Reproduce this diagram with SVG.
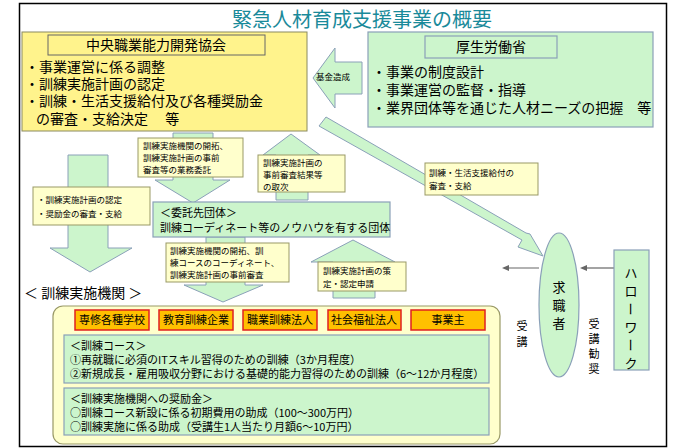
<svg xmlns="http://www.w3.org/2000/svg" width="680" height="448" viewBox="0 0 680 448">
<style>
text{font-family:"Noto Sans CJK JP","Noto Sans CJK SC",sans-serif;fill:#000}
.ar{fill:#ccf5cc;stroke:#8aa0b8;stroke-width:1}
.lb{fill:#ffffcc;stroke:#999966;stroke-width:1}
.gb{fill:#ccf5cc;stroke:#8aa0b8;stroke-width:1.2}
.ob{fill:#ffc000;stroke:#e02020;stroke-width:1.5}
.s{font-size:8.5px}
.m{font-size:11px}
.l{font-size:14px}
.v{font-size:13px}
</style>
<rect x="0" y="0" width="680" height="448" fill="#fff"/>
<rect x="19.5" y="3.5" width="647" height="443" fill="none" stroke="#000" stroke-width="1.5"/>
<text x="232" y="27" style="font-size:20px;fill:#1a8a9a">緊急人材育成支援事業の概要</text>
<g id="connectors">
<polygon class="ar" points="313,78 335,48 335,62 362,62 362,94 335,94 335,108"/>
<polygon class="ar" points="326,117 319,126 522,240 518,247 543,256 530,234 526,233"/>
<polygon class="ar" points="173,133 213,133 213,180 230,180 193,203 155,180 173,180"/>
<polygon class="ar" points="276,200 308,200 308,155 320,155 291,134 263,155 276,155"/>
<polygon class="ar" points="68,155 108,155 108,248 132,248 90,272 50,248 68,248"/>
<polygon class="ar" points="206,237 245,237 245,285 263,285 223,302 184,285 206,285"/>
<polygon class="ar" points="333,298 375,298 375,262 395,262 353,240 311,262 333,262"/>
<line x1="614" y1="268" x2="584" y2="268" stroke="#666" stroke-width="1.2"/>
<polygon points="580,268 587,265 587,271" fill="#666"/>
<line x1="539" y1="268" x2="506" y2="268" stroke="#666" stroke-width="1.2"/>
<polygon points="502,268 509,265 509,271" fill="#666"/>
</g>
<g id="chuo">
<rect x="22" y="32" width="285" height="99" fill="#fff38c" stroke="#8a8a60" stroke-width="1"/>
<rect x="48" y="35" width="217" height="20" fill="#fff38c" stroke="#666" stroke-width="1"/>
<text x="156" y="50" class="l" text-anchor="middle">中央職業能力開発協会</text>
<text x="25" y="72" class="l">・事業運営に係る調整</text>
<text x="25" y="89" class="l">・訓練実施計画の認定</text>
<text x="25" y="106" class="l">・訓練・生活支援給付及び各種奨励金</text>
<text x="36" y="124" class="l">の審査・支給決定　 等</text>
</g>
<g id="mhlw">
<rect x="368" y="32" width="285" height="95" class="gb"/>
<rect x="425" y="36" width="132" height="22" class="gb"/>
<text x="491" y="52" class="l" text-anchor="middle">厚生労働省</text>
<text x="372" y="77" class="l">・事業の制度設計</text>
<text x="372" y="95" class="l">・事業運営の監督・指導</text>
<text x="372" y="113" class="l">・業界団体等を通じた人材ニーズの把握　等</text>
</g>
<g id="lbl-kikin"><text x="316" y="80" class="s">基金造成</text></g>
<g id="lbl-diag"><rect x="425" y="163" width="113" height="32" class="lb"/>
<text x="429" y="176" class="s">訓練・生活支援給付の</text><text x="429" y="189" class="s">審査・支給</text></g>
<g id="lbl-itaku"><rect x="138" y="138" width="105" height="39" class="lb"/>
<text x="143" y="149" class="s">訓練実施機関の開拓、</text><text x="143" y="161" class="s">訓練実施計画の事前</text><text x="143" y="173" class="s">審査等の業務委託</text></g>
<g id="lbl-toritsugi"><rect x="258" y="155" width="87" height="37" class="lb"/>
<text x="263" y="166" class="s">訓練実施計画の</text><text x="263" y="178" class="s">事前審査結果等</text><text x="263" y="190" class="s">の取次</text></g>
<g id="lbl-nintei"><rect x="33" y="187" width="117" height="38" class="lb"/>
<text x="37" y="203" class="s">・訓練実施計画の認定</text><text x="37" y="217" class="s">・奨励金の審査・支給</text></g>
<g id="itakusaki">
<rect x="153" y="202" width="237" height="35" class="gb"/>
<text x="160" y="217" class="m">＜委託先団体＞</text>
<text x="160" y="232" class="m">訓練コーディネート等のノウハウを有する団体</text>
</g>
<g id="lbl-kaitaku"><rect x="166" y="243" width="123" height="39" class="lb"/>
<text x="170" y="254" class="s">訓練実施機関の開拓、訓</text><text x="170" y="266" class="s">練コースのコーディネート、</text><text x="170" y="278" class="s">訓練実施計画の事前審査</text></g>
<g id="lbl-shinsei"><rect x="318" y="262" width="88" height="29" class="lb"/>
<text x="323" y="274" class="s">訓練実施計画の策</text><text x="323" y="287" class="s">定・認定申請</text></g>
<text x="24" y="298" class="l">＜ 訓練実施機関 ＞</text>
<g id="kikan">
<rect x="53" y="306" width="447" height="138" rx="10" fill="#ffffcc" stroke="#999966" stroke-width="1.2"/>
<rect x="75" y="310" width="74" height="20" class="ob"/><text x="112" y="324" class="m" text-anchor="middle">専修各種学校</text>
<rect x="159" y="310" width="74" height="20" class="ob"/><text x="196" y="324" class="m" text-anchor="middle">教育訓練企業</text>
<rect x="243" y="310" width="74" height="20" class="ob"/><text x="280" y="324" class="m" text-anchor="middle">職業訓練法人</text>
<rect x="328" y="310" width="73" height="20" class="ob"/><text x="364" y="324" class="m" text-anchor="middle">社会福祉法人</text>
<rect x="411" y="310" width="74" height="20" class="ob"/><text x="448" y="324" class="m" text-anchor="middle">事業主</text>
<rect x="64" y="335" width="425" height="48" class="gb"/>
<text x="70" y="350" class="m">＜訓練コース＞</text>
<text x="70" y="364" class="m">①再就職に必須のITスキル習得のための訓練（3か月程度）</text>
<text x="70" y="378" class="m">②新規成長・雇用吸収分野における基礎的能力習得のための訓練（6～12か月程度）</text>
<rect x="64" y="388" width="425" height="47" class="gb"/>
<text x="70" y="403" class="m">＜訓練実施機関への奨励金＞</text>
<text x="70" y="417" class="m">○訓練コース新設に係る初期費用の助成（100～300万円）</text>
<text x="70" y="431" class="m">○訓練実施に係る助成（受講生1人当たり月額6～10万円）</text>
</g>
<g id="kyushokusha">
<ellipse cx="559" cy="305" rx="20" ry="72" class="gb"/>
<text x="559" y="292" class="v" text-anchor="middle">求</text>
<text x="559" y="310" class="v" text-anchor="middle">職</text>
<text x="559" y="328" class="v" text-anchor="middle">者</text>
</g>
<g id="hellowork">
<rect x="614" y="250" width="35" height="120" class="gb"/>
<text x="631" y="278" class="v" text-anchor="middle">ハ</text>
<text x="631" y="296" class="v" text-anchor="middle">ロ</text>
<text x="631" y="314" class="v" text-anchor="middle" transform="rotate(90 631 309)">ー</text>
<text x="631" y="332" class="v" text-anchor="middle">ワ</text>
<text x="631" y="350" class="v" text-anchor="middle" transform="rotate(90 631 345)">ー</text>
<text x="631" y="368" class="v" text-anchor="middle">ク</text>
</g>
<text x="522" y="330" class="m" text-anchor="middle">受</text>
<text x="522" y="346" class="m" text-anchor="middle">講</text>
<text x="594" y="328" class="m" text-anchor="middle">受</text>
<text x="594" y="343" class="m" text-anchor="middle">講</text>
<text x="594" y="358" class="m" text-anchor="middle">勧</text>
<text x="594" y="373" class="m" text-anchor="middle">奨</text>
</svg>
